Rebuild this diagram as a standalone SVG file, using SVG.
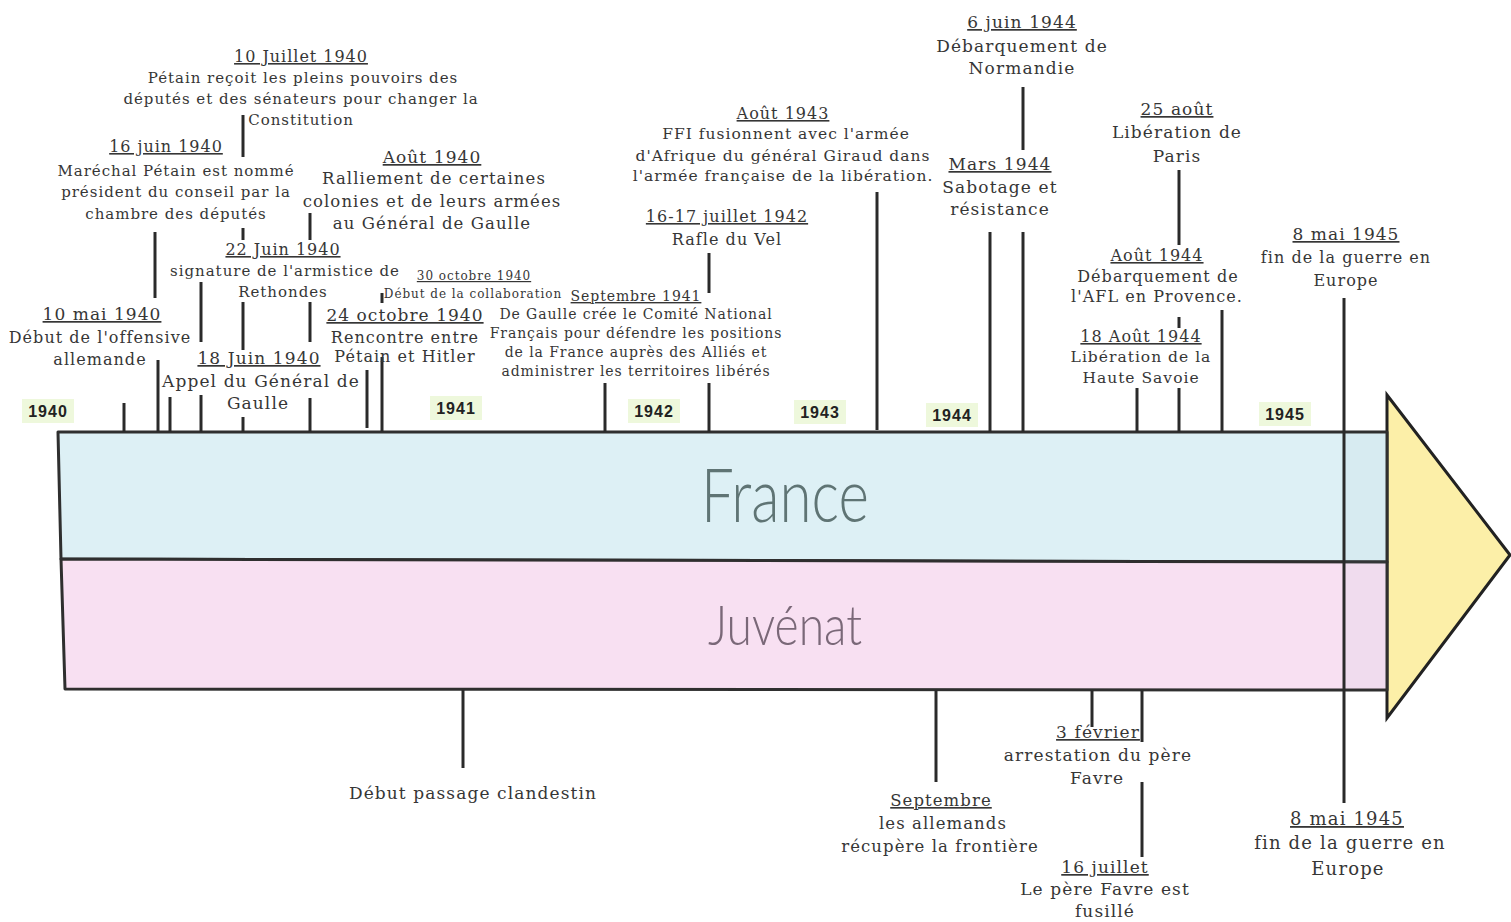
<svg xmlns="http://www.w3.org/2000/svg" width="1511" height="922" viewBox="0 0 1511 922">
<style>
.t{font-family:"DejaVu Serif","Liberation Serif",serif;fill:#363636;text-anchor:middle;letter-spacing:0.065em}
.d{text-decoration:underline}
.yr{font-family:"Liberation Sans",Arial,sans-serif;font-weight:bold;font-size:16px;fill:#222;text-anchor:middle;letter-spacing:1px}
.yb{fill:#eef8dc}
.c line{stroke:#2a2a2a;stroke-width:3}
.band{stroke:#2f2f2f;stroke-width:3;stroke-linejoin:round}
</style>
<rect width="1511" height="922" fill="#ffffff"/>
<g id="timeline">
<polygon id="arrow-head" points="1387,395 1510,555 1387,718" fill="#fcefa8" stroke="#222" stroke-width="3" stroke-linejoin="miter"/>
<polygon id="band-france" class="band" points="58,432 1387,432 1387,562 61,559" fill="#ddf0f5"/>
<polygon id="band-juvenat" class="band" points="61,559 1387,562 1387,690 65,689" fill="#f8e0f2"/>
<rect x="1344" y="434" width="42" height="254" fill="#7ab" opacity="0.06"/>
<text id="label-france" x="785" y="522" font-family="Lato,'Open Sans',sans-serif" font-weight="300" font-size="74" fill="#5f7474" text-anchor="middle" textLength="168" lengthAdjust="spacingAndGlyphs">France</text>
<text id="label-juvenat" x="785" y="645" font-family="Lato,'Open Sans',sans-serif" font-weight="300" font-size="56" fill="#7a6878" text-anchor="middle" textLength="154" lengthAdjust="spacingAndGlyphs">Juvénat</text>
</g>
<g id="years">
<rect class="yb" x="22" y="399" width="52" height="24"/><text class="yr" x="48" y="417">1940</text>
<rect class="yb" x="430" y="396" width="52" height="24"/><text class="yr" x="456" y="414">1941</text>
<rect class="yb" x="628" y="399" width="52" height="24"/><text class="yr" x="654" y="417">1942</text>
<rect class="yb" x="794" y="400" width="52" height="24"/><text class="yr" x="820" y="418">1943</text>
<rect class="yb" x="926" y="403" width="52" height="24"/><text class="yr" x="952" y="421">1944</text>
<rect class="yb" x="1259" y="402" width="52" height="24"/><text class="yr" x="1285" y="420">1945</text>
</g>
<g id="connectors" class="c">
<line x1="124" y1="403" x2="124" y2="432"/>
<line x1="155" y1="232" x2="155" y2="298"/>
<line x1="158" y1="360" x2="158" y2="432"/>
<line x1="170" y1="397" x2="170" y2="432"/>
<line x1="201" y1="282" x2="201" y2="342"/>
<line x1="201" y1="395" x2="201" y2="432"/>
<line x1="243" y1="115" x2="243" y2="157"/>
<line x1="243" y1="228" x2="243" y2="240"/>
<line x1="243" y1="302" x2="243" y2="350"/>
<line x1="243" y1="417" x2="243" y2="432"/>
<line x1="310" y1="213" x2="310" y2="240"/>
<line x1="310" y1="302" x2="310" y2="342"/>
<line x1="310" y1="398" x2="310" y2="432"/>
<line x1="367" y1="370" x2="367" y2="428"/>
<line x1="382" y1="293" x2="382" y2="303"/>
<line x1="382" y1="357" x2="382" y2="432"/>
<line x1="605" y1="383" x2="605" y2="432"/>
<line x1="709" y1="253" x2="709" y2="293"/>
<line x1="709" y1="383" x2="709" y2="432"/>
<line x1="877" y1="192" x2="877" y2="430"/>
<line x1="990" y1="232" x2="990" y2="432"/>
<line x1="1023" y1="87" x2="1023" y2="150"/>
<line x1="1023" y1="232" x2="1023" y2="432"/>
<line x1="1179" y1="170" x2="1179" y2="245"/>
<line x1="1179" y1="317" x2="1179" y2="328"/>
<line x1="1179" y1="388" x2="1179" y2="432"/>
<line x1="1137" y1="388" x2="1137" y2="432"/>
<line x1="1222" y1="310" x2="1222" y2="432"/>
<line x1="1344" y1="298" x2="1344" y2="803"/>
<line x1="463" y1="690" x2="463" y2="768"/>
<line x1="936" y1="690" x2="936" y2="782"/>
<line x1="1092" y1="690" x2="1092" y2="727"/>
<line x1="1142" y1="690" x2="1142" y2="742"/>
<line x1="1142" y1="782" x2="1142" y2="857"/>
</g>
<g id="ev-10juillet1940" class="t" font-size="15">
<text class="d" x="301" y="62" font-size="16">10 Juillet 1940</text>
<text x="303" y="83">Pétain reçoit les pleins pouvoirs des</text>
<text x="301" y="104">députés et des sénateurs pour changer la</text>
<text x="301" y="125">Constitution</text>
</g>
<g id="ev-16juin1940" class="t" font-size="15">
<text class="d" x="166" y="152" font-size="16">16 juin 1940</text>
<text x="176" y="176">Maréchal Pétain est nommé</text>
<text x="176" y="197">président du conseil par la</text>
<text x="176" y="219">chambre des députés</text>
</g>
<g id="ev-aout1940" class="t" font-size="16.5">
<text class="d" x="432" y="163" font-size="17">Août 1940</text>
<text x="434" y="184">Ralliement de certaines</text>
<text x="432" y="207">colonies et de leurs armées</text>
<text x="432" y="229">au Général de Gaulle</text>
</g>
<g id="ev-22juin1940" class="t" font-size="15">
<text class="d" x="283" y="255" font-size="16">22 Juin 1940</text>
<text x="285" y="276">signature de l'armistice de</text>
<text x="283" y="297">Rethondes</text>
</g>
<g id="ev-30octobre1940" class="t" font-size="12" style="letter-spacing:0.08em">
<text class="d" x="474" y="280">30 octobre 1940</text>
<text x="473" y="298">Début de la collaboration</text>
</g>
<g id="ev-10mai1940" class="t" font-size="16">
<text class="d" x="102" y="320" font-size="17">10 mai 1940</text>
<text x="100" y="343">Début de l'offensive</text>
<text x="100" y="365">allemande</text>
</g>
<g id="ev-18juin1940" class="t" font-size="17">
<text class="d" x="259" y="364">18 Juin 1940</text>
<text x="261" y="387">Appel du Général de</text>
<text x="258" y="409">Gaulle</text>
</g>
<g id="ev-24octobre1940" class="t" font-size="16">
<text class="d" x="405" y="321" font-size="17">24 octobre 1940</text>
<text x="405" y="343">Rencontre entre</text>
<text x="405" y="362">Pétain et Hitler</text>
</g>
<g id="ev-septembre1941" class="t" font-size="14">
<text class="d" x="636" y="301" font-size="14">Septembre 1941</text>
<text x="636" y="319">De Gaulle crée le Comité National</text>
<text x="636" y="338">Français pour défendre les positions</text>
<text x="636" y="357">de la France auprès des Alliés et</text>
<text x="636" y="376">administrer les territoires libérés</text>
</g>
<g id="ev-juillet1942" class="t" font-size="16">
<text class="d" x="727" y="222">16-17 juillet 1942</text>
<text x="727" y="245">Rafle du Vel</text>
</g>
<g id="ev-aout1943" class="t" font-size="15.5">
<text class="d" x="783" y="119" font-size="16">Août 1943</text>
<text x="786" y="139">FFI fusionnent avec l'armée</text>
<text x="783" y="161">d'Afrique du général Giraud dans</text>
<text x="783" y="181">l'armée française de la libération.</text>
</g>
<g id="ev-6juin1944" class="t" font-size="17">
<text class="d" x="1022" y="28">6 juin 1944</text>
<text x="1022" y="52">Débarquement de</text>
<text x="1022" y="74">Normandie</text>
</g>
<g id="ev-mars1944" class="t" font-size="17">
<text class="d" x="1000" y="170">Mars 1944</text>
<text x="1000" y="193">Sabotage et</text>
<text x="1000" y="215">résistance</text>
</g>
<g id="ev-25aout1944" class="t" font-size="17">
<text class="d" x="1177" y="115">25 août</text>
<text x="1177" y="138">Libération de</text>
<text x="1177" y="162">Paris</text>
</g>
<g id="ev-aout1944" class="t" font-size="16">
<text class="d" x="1157" y="261">Août 1944</text>
<text x="1158" y="282">Débarquement de</text>
<text x="1157" y="302">l'AFL en Provence.</text>
</g>
<g id="ev-18aout1944" class="t" font-size="15.5">
<text class="d" x="1141" y="342" font-size="16">18 Août 1944</text>
<text x="1141" y="362">Libération de la</text>
<text x="1141" y="383">Haute Savoie</text>
</g>
<g id="ev-8mai1945-top" class="t" font-size="16">
<text class="d" x="1346" y="240" font-size="17">8 mai 1945</text>
<text x="1346" y="263">fin de la guerre en</text>
<text x="1346" y="286">Europe</text>
</g>
<g id="ev-passage" class="t" font-size="17">
<text x="473" y="799">Début passage clandestin</text>
</g>
<g id="ev-septembre" class="t" font-size="16.5">
<text class="d" x="941" y="806">Septembre</text>
<text x="943" y="829">les allemands</text>
<text x="940" y="852">récupère la frontière</text>
</g>
<g id="ev-3fevrier" class="t" font-size="17">
<text class="d" x="1098" y="738">3 février</text>
<text x="1098" y="761">arrestation du père</text>
<text x="1097" y="784">Favre</text>
</g>
<g id="ev-16juillet" class="t" font-size="17">
<text class="d" x="1105" y="873">16 juillet</text>
<text x="1105" y="895">Le père Favre est</text>
<text x="1105" y="917">fusillé</text>
</g>
<g id="ev-8mai1945-bottom" class="t" font-size="18">
<text class="d" x="1347" y="825">8 mai 1945</text>
<text x="1350" y="849">fin de la guerre en</text>
<text x="1348" y="875">Europe</text>
</g>
</svg>
